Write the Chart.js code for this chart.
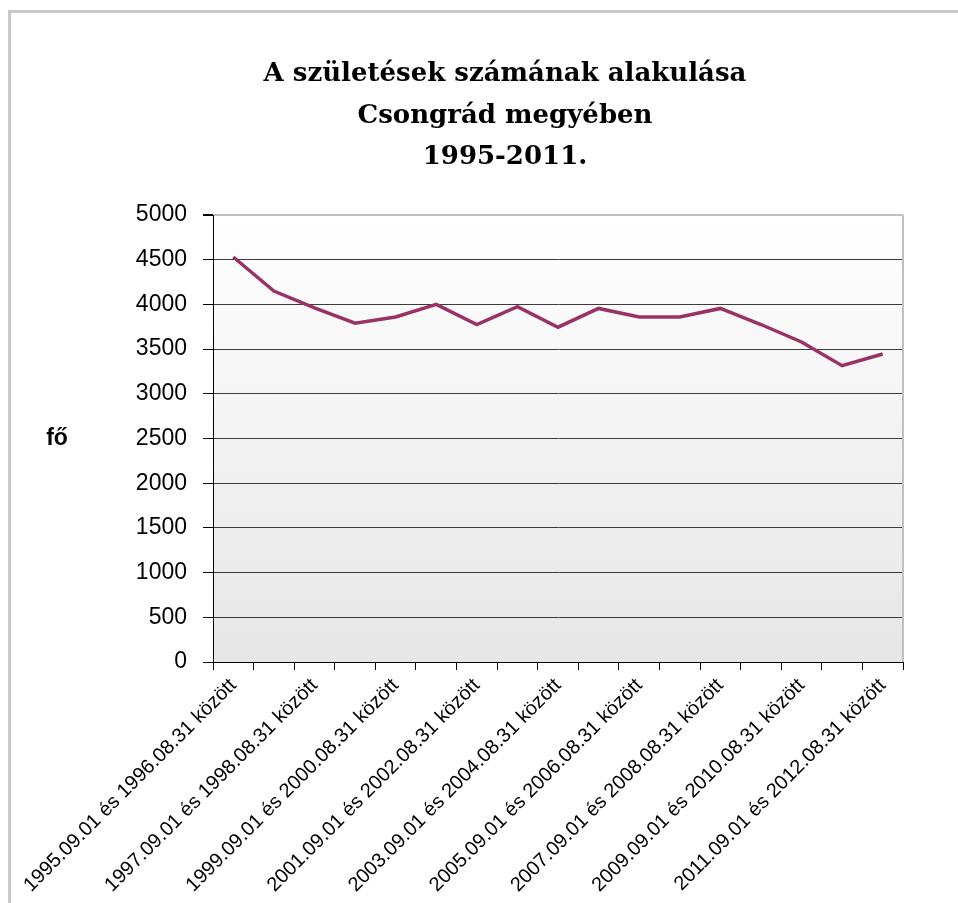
<!DOCTYPE html>
<html lang="hu">
<head>
  <meta charset="UTF-8" />
  <title>A születések számának alakulása</title>
  <script src="https://cdn.jsdelivr.net/npm/chart.js"></script>
  <style>
    html, body { margin: 0; padding: 0; background: #fff; overflow: hidden; }
    #keret {
      position: absolute; left: 8px; top: 10px;
      width: 1000px; height: 1000px;
      border: 3px solid #c8c8c8;
    }
    #grafikon { position: absolute; left: 0; top: 0; }
  </style>
</head>
<body>
  <div id="keret"></div>
  <canvas id="grafikon" width="958" height="903"></canvas>

<script>
// adatok
const idoszakok = [
  "1995.09.01 és 1996.08.31 között",
  "1996.09.01 és 1997.08.31 között",
  "1997.09.01 és 1998.08.31 között",
  "1998.09.01 és 1999.08.31 között",
  "1999.09.01 és 2000.08.31 között",
  "2000.09.01 és 2001.08.31 között",
  "2001.09.01 és 2002.08.31 között",
  "2002.09.01 és 2003.08.31 között",
  "2003.09.01 és 2004.08.31 között",
  "2004.09.01 és 2005.08.31 között",
  "2005.09.01 és 2006.08.31 között",
  "2006.09.01 és 2007.08.31 között",
  "2007.09.01 és 2008.08.31 között",
  "2008.09.01 és 2009.08.31 között",
  "2009.09.01 és 2010.08.31 között",
  "2010.09.01 és 2011.08.31 között",
  "2011.09.01 és 2012.08.31 között"
];
const szuletesek = [4530, 4150, 3960, 3790, 3860, 4000, 3775, 3975, 3745,
                    3955, 3860, 3860, 3955, 3775, 3580, 3315, 3445];
const yOsztasok = [0, 500, 1000, 1500, 2000, 2500, 3000, 3500, 4000, 4500, 5000];
const cimSorok = ["A születések számának alakulása", "Csongrád megyében", "1995-2011."];
const yCim = "fő";

// háttér színátmenet + jobb oldali keret
const hatter = {
  id: "hatter",
  beforeDraw(chart) {
    const { ctx, chartArea: a } = chart;
    const g = ctx.createLinearGradient(0, a.top, 0, a.bottom);
    g.addColorStop(0, "#ffffff");
    g.addColorStop(1, "#e6e6e6");
    ctx.save();
    ctx.fillStyle = g;
    ctx.fillRect(a.left, a.top, a.right - a.left, a.bottom - a.top);
    ctx.restore();
  },
  afterDatasetsDraw(chart) {
    const { ctx, chartArea: a } = chart;
    ctx.save();
    ctx.strokeStyle = "#c0c0c0";
    ctx.lineWidth = 2;
    ctx.beginPath();
    ctx.moveTo(a.right, a.top);
    ctx.lineTo(a.right, a.bottom);
    ctx.stroke();
    ctx.restore();
  }
};

// cím és a vízszintes "fő" felirat
const feliratok = {
  id: "feliratok",
  afterDraw(chart) {
    const { ctx, chartArea: a } = chart;
    ctx.save();
    ctx.fillStyle = "#000";
    ctx.textAlign = "center";
    ctx.textBaseline = "alphabetic";
    ctx.font = "bold 26px 'DejaVu Serif'";
    cimSorok.forEach((s, i) => ctx.fillText(s, 505, 81 + i * 41.5));
    ctx.font = "bold 23px 'Liberation Sans', Arial";
    ctx.textBaseline = "middle";
    ctx.fillText(yCim, 57, (a.top + a.bottom) / 2);
    ctx.restore();
  }
};

new Chart(document.getElementById("grafikon"), {
  type: "line",
  data: {
    labels: idoszakok,
    datasets: [{
      data: szuletesek,
      borderColor: "#993366",
      borderWidth: 3.5,
      pointRadius: 0,
      tension: 0,
      fill: false
    }]
  },
  options: {
    responsive: false,
    animation: false,
    layout: { padding: { top: 215, right: 55, left: 0, bottom: 0 } },
    plugins: {
      legend: { display: false },
      title: { display: false },
      tooltip: { enabled: false }
    },
    scales: {
      x: {
        offset: true,
        grid: {
          offset: true,
          drawOnChartArea: false,
          tickLength: 8,
          tickColor: "#000",
          tickWidth: 1
        },
        border: { color: "#000", width: 1 },
        ticks: {
          autoSkip: false,
          maxRotation: 45,
          minRotation: 45,
          padding: 4,
          color: "#000",
          font: { family: "'Liberation Sans', Arial", size: 20 },
          callback: (v, i) => (i % 2 === 0 ? idoszakok[i] : "")
        },
        afterFit: (s) => { s.height = 241; }
      },
      y: {
        min: 0,
        max: 5000,
        afterBuildTicks: (s) => { s.ticks = yOsztasok.map(v => ({ value: v })); },
        grid: {
          color: (c) => (c.tick && c.tick.value === 5000 ? "#c0c0c0" : "#3c3c3c"),
          lineWidth: (c) => (c.tick && c.tick.value === 5000 ? 2 : 1),
          tickLength: 10,
          tickColor: "#000"
        },
        border: { color: "#000", width: 1 },
        ticks: {
          padding: 16,
          color: "#000",
          font: { family: "'Liberation Sans', Arial", size: 23 },
          callback: (v) => String(v)
        },
        afterFit: (s) => { s.width = 213; }
      }
    }
  },
  plugins: [hatter, feliratok]
});
</script>
</body>
</html>
